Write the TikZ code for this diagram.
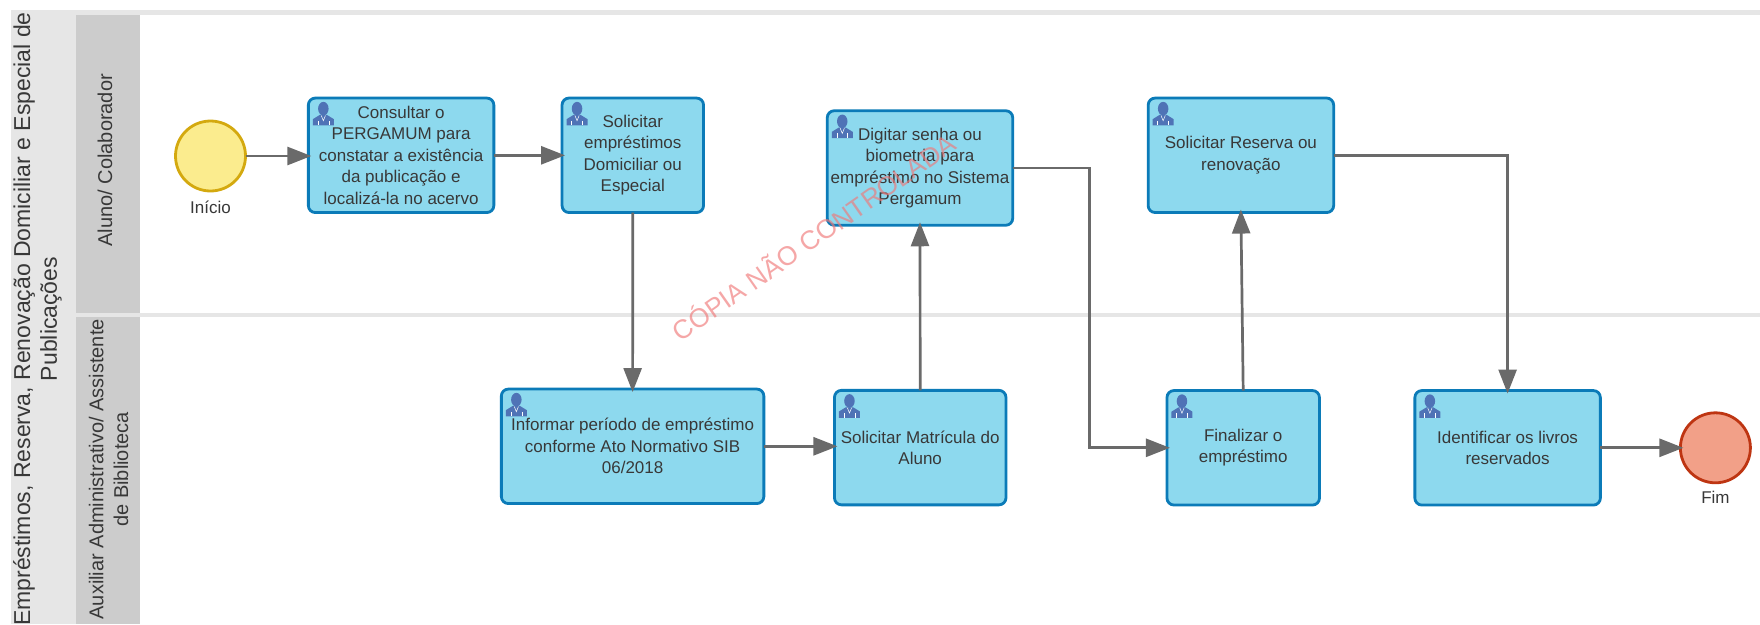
\documentclass[tikz,border=0pt]{standalone}
\usepackage{fontspec}
\setmainfont{Liberation Sans}
\usetikzlibrary{arrows.meta,calc}
\definecolor{bandgray}{HTML}{E6E6E6}
\definecolor{lanegray}{HTML}{CCCCCC}
\definecolor{taskfill}{HTML}{8DD9EE}
\definecolor{taskline}{HTML}{0B7BB8}
\definecolor{flowgray}{HTML}{6A6A6A}
\definecolor{inkgray}{HTML}{383838}
\definecolor{iconblue}{HTML}{4F73B6}
\definecolor{startfill}{HTML}{FBEC8E}
\definecolor{startline}{HTML}{D4A90F}
\definecolor{endfill}{HTML}{F2A088}
\definecolor{endline}{HTML}{BE3512}
\definecolor{stamp}{HTML}{F07878}
\tikzset{
  taskbox/.style={draw=taskline,fill=taskfill,line width=2.8pt,rounded corners=7pt,
    inner sep=0pt,outer sep=0pt,minimum height=114.5pt,align=center,text=inkgray,
    font=\fontsize{17}{21.5}\selectfont},
  startev/.style={circle,draw=startline,fill=startfill,line width=2.8pt,minimum size=70pt,inner sep=0pt,outer sep=0pt},
  endev/.style={circle,draw=endline,fill=endfill,line width=2.8pt,minimum size=70pt,inner sep=0pt,outer sep=0pt},
  evlabel/.style={text=inkgray,font=\fontsize{17}{20}\selectfont,inner sep=0pt},
  flow/.style={draw=flowgray,line width=2.7pt,shorten >=-3pt,-{Triangle[length=24pt,width=18pt]}},
  lanetitle/.style={rotate=90,align=center,text=inkgray,inner sep=0pt,font=\fontsize{20}{24.7}\selectfont},
  pooltitle/.style={rotate=90,align=center,text=inkgray,inner sep=0pt,font=\fontsize{23}{26.7}\selectfont},
  personicon/.pic={
    \begin{scope}[scale=1.05]
    \fill[iconblue] (10,6.5) ellipse (5 and 6.5);
    \fill[iconblue] (0,22.5) -- (0,16.5) -- (6.5,12.5) -- (13.5,12.5) -- (20,16.5) -- (20,22.5) -- cycle;
    \draw[white,line width=0.5pt] (4.8,18) -- (4.8,22.5) (15.2,18) -- (15.2,22.5);
    \draw[white,line width=0.5pt] (8,13) -- (10,18) -- (12,13);
    \end{scope}
  }
}
\begin{document}
\begin{tikzpicture}[x=1pt,y=-1pt]
\useasboundingbox (0,0) rectangle (1760,624);
\fill[white] (0,0) rectangle (1760,624);
% pool and lanes
\fill[bandgray] (11,10) rectangle (1760,15);
\fill[bandgray] (11,10) rectangle (76,624);
\fill[lanegray] (76,15) rectangle (140,313);
\fill[lanegray] (76,317) rectangle (140,624);
\fill[bandgray] (76,313) rectangle (1760,317);
\begin{scope}
\clip (11,10) rectangle (76,624);
\node[pooltitle] (pool) at (37.5,319) {Empréstimos, Reserva, Renovação Domiciliar e Especial de\\Publicações};
\end{scope}
\node[lanetitle] (laneA) at (105,160.3) {Aluno/ Colaborador};
\node[lanetitle] (laneB) at (108.5,469.3) {Auxiliar Administrativo/ Assistente\\de Biblioteca};
% events
\node[startev] (start) at (210.5,156) {};
\node[evlabel] (startlab) at (210.5,207) {Início};
\node[endev] (finish) at (1715.4,447.8) {};
\node[evlabel] (finishlab) at (1715.4,497.3) {Fim};
% tasks
\node[taskbox,minimum width=185.5pt] (b1) at (401.1,155.3) {Consultar o\\PERGAMUM para\\constatar a existência\\da publicação e\\localizá-la no acervo};
\node[taskbox,minimum width=141.5pt] (b2) at (632.8,155.3) {Solicitar\\empréstimos\\Domiciliar ou\\Especial};
\node[taskbox,minimum width=185.5pt] (b3) at (920,168) {Digitar senha ou\\biometria para\\empréstimo no Sistema\\Pergamum};
\node[taskbox,minimum width=185.5pt] (b7) at (1240.9,155.3) {Solicitar Reserva ou\\renovação};
\node[taskbox,minimum width=262.5pt] (b4) at (632.6,446.3) {Informar período de empréstimo\\conforme Ato Normativo SIB\\06/2018};
\node[taskbox,minimum width=171.5pt] (b5) at (920.2,447.6) {Solicitar Matrícula do\\Aluno};
\node[taskbox,minimum width=152.5pt] (b6) at (1243.2,447.8) {Finalizar o\\empréstimo};
\node[taskbox,minimum width=185.5pt] (b8) at (1507.6,447.8) {Identificar os livros\\reservados};
% icons
\foreach \b in {b1,b2,b3,b4,b5,b6,b7,b8}{
  \pic at ($(\b.north west)+(4.5,3.8)$) {personicon};
}
% flows
\coordinate (bend) at (1089.6,168);
\draw[flow] (start.east) -- (start.east -| b1.west);
\draw[flow] (b1.east) -- (b2.west);
\draw[flow] (b2.south) -- (b4.north);
\draw[flow] (b4.east) -- (b4.east -| b5.west);
\draw[flow] (b5.north) -- (b3.south);
\draw[flow] (b3.east) -- (bend) |- (b6.west);
\draw[flow] (b6.north) -- (b7.south);
\draw[flow] (b7.east) -| (b8.north);
\draw[flow] (b8.east) -- (finish.west);
% stamp
\node[rotate=35,text=stamp,opacity=0.65,inner sep=0pt,font=\fontsize{26.5}{30}\selectfont] (copy) at (813,236) {CÓPIA NÃO CONTROLADA};
\end{tikzpicture}
\end{document}
